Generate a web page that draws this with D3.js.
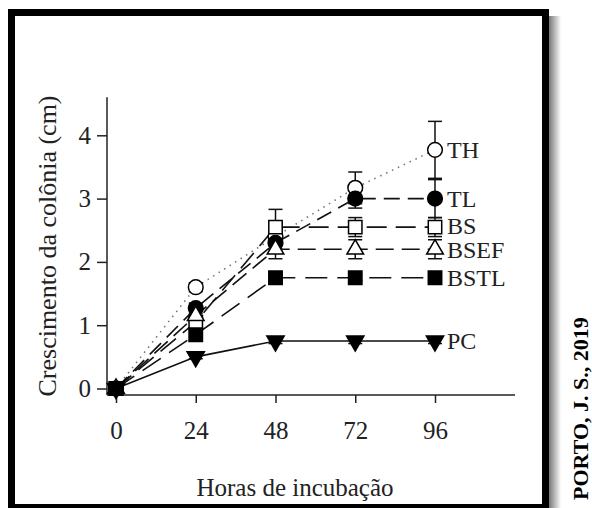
<!DOCTYPE html>
<html>
<head>
<meta charset="utf-8">
<script src="https://cdn.jsdelivr.net/npm/d3@7"></script>
<style>
  body { margin: 0; background: #fff; }
  svg text { font-family: "Liberation Serif", "Times New Roman", Times, serif; }
</style>
</head>
<body>
<script>
var width = 592;
var height = 508;

// data
var hours = [0, 24, 48, 72, 96];
var yTicks = [0, 1, 2, 3, 4];
var seriesNames = ["TH", "TL", "BS", "BSEF", "BSTL", "PC"];
var thValues   = [0, 1.60, 2.40, 3.17, 3.77];
var thErrors   = [0, 0.07, 0.20, 0.25, 0.45];
var tlValues   = [0, 1.27, 2.30, 3.00, 3.00];
var tlErrors   = [0, 0.08, 0.15, 0.15, 0.30];
var bsValues   = [0, 1.05, 2.55, 2.55, 2.55];
var bsErrors   = [0, 0.10, 0.28, 0.15, 0.15];
var bsefValues = [0, 1.15, 2.20, 2.20, 2.20];
var bsefErrors = [0, 0.10, 0.15, 0.15, 0.15];
var bstlValues = [0, 0.85, 1.75, 1.75, 1.75];
var bstlErrors = [0, 0.08, 0.05, 0.05, 0.05];
var pcValues   = [0, 0.50, 0.75, 0.75, 0.75];
var pcErrors   = [0, 0.03, 0.04, 0.04, 0.04];

var series = [
  { name: "TH",   values: thValues,   errors: thErrors,   dash: "1.5,5", stroke: "#777", symbol: d3.symbolCircle,   fill: "#fff", size: 170 },
  { name: "TL",   values: tlValues,   errors: tlErrors,   dash: "16,8",  stroke: "#111", symbol: d3.symbolCircle,   fill: "#000", size: 170 },
  { name: "BS",   values: bsValues,   errors: bsErrors,   dash: "20,9",  stroke: "#111", symbol: d3.symbolSquare,   fill: "#fff", size: 180 },
  { name: "BSEF", values: bsefValues, errors: bsefErrors, dash: "18,8",  stroke: "#111", symbol: d3.symbolTriangle, fill: "#fff", size: 120 },
  { name: "BSTL", values: bstlValues, errors: bstlErrors, dash: "22,10", stroke: "#111", symbol: d3.symbolSquare,   fill: "#000", size: 180 },
  { name: "PC",   values: pcValues,   errors: pcErrors,   dash: null,    stroke: "#111", symbol: d3.symbolTriangle, fill: "#000", size: 130, flip: true }
];

var svg = d3.select("body").append("svg")
    .attr("width", width)
    .attr("height", height);

// drop shadow + frame
var defs = svg.append("defs");
var grad = defs.append("linearGradient").attr("id", "shade");
grad.append("stop").attr("offset", "0%").attr("stop-color", "#777");
grad.append("stop").attr("offset", "100%").attr("stop-color", "#fff");
svg.append("rect").attr("x", 549).attr("y", 16).attr("width", 12).attr("height", height)
    .attr("fill", "url(#shade)");
svg.append("rect").attr("x", 11.5).attr("y", 12.5).attr("width", 534).attr("height", 495)
    .attr("fill", "#fff").attr("stroke", "#000").attr("stroke-width", 7);

var x = d3.scaleLinear().domain([0, 96]).range([116, 435]);
var y = d3.scaleLinear().domain([0, 4]).range([388.5, 135.3]);

// axis lines
svg.append("line")
    .attr("x1", 107).attr("x2", 107)
    .attr("y1", y(4.6)).attr("y2", 395)
    .attr("stroke", "#222").attr("stroke-width", 1.5);
svg.append("line")
    .attr("x1", 107).attr("x2", 515)
    .attr("y1", 395).attr("y2", 395)
    .attr("stroke", "#222").attr("stroke-width", 1.5);

var yAxis = svg.append("g")
    .attr("transform", "translate(107,0)")
    .call(d3.axisLeft(y).tickValues(yTicks).tickSize(10).tickPadding(6).tickFormat(d3.format("d")));
var xAxis = svg.append("g")
    .attr("transform", "translate(0,395)")
    .call(d3.axisBottom(x).tickValues(hours).tickSize(8).tickPadding(18).tickFormat(d3.format("d")));
[yAxis, xAxis].forEach(function(a) {
  a.attr("font-family", null);
  a.select(".domain").remove();
  a.selectAll("line").attr("stroke", "#222").attr("stroke-width", 1.5);
  a.selectAll("text").attr("font-size", 25).attr("fill", "#222");
});

// titles
svg.append("text")
    .attr("x", 295).attr("y", 496)
    .attr("text-anchor", "middle")
    .attr("font-size", 25).attr("fill", "#222")
    .text("Horas de incubação");
svg.append("text")
    .attr("transform", "translate(56,246) rotate(-90)")
    .attr("text-anchor", "middle")
    .attr("font-size", 26).attr("fill", "#222")
    .text("Crescimento da colônia (cm)");

// lines
var line = d3.line()
    .x(function(d, i) { return x(hours[i]); })
    .y(function(d) { return y(d); });

var g = svg.append("g");

series.forEach(function(s) {
  g.append("path")
      .datum(s.values)
      .attr("d", line)
      .attr("fill", "none")
      .attr("stroke", s.stroke)
      .attr("stroke-width", 1.6)
      .attr("stroke-dasharray", s.dash);
});

// error bars
series.forEach(function(s) {
  s.values.forEach(function(v, i) {
    var e = s.errors[i];
    if (!e) return;
    var cx = x(hours[i]);
    g.append("line")
        .attr("x1", cx).attr("x2", cx)
        .attr("y1", y(v - e)).attr("y2", y(v + e))
        .attr("stroke", "#111").attr("stroke-width", 1.5);
    [v - e, v + e].forEach(function(c) {
      g.append("line")
          .attr("x1", cx - 7).attr("x2", cx + 7)
          .attr("y1", y(c)).attr("y2", y(c))
          .attr("stroke", "#111").attr("stroke-width", 1.5);
    });
  });
});

// markers
series.forEach(function(s) {
  var sym = d3.symbol().type(s.symbol).size(s.size);
  g.selectAll(null)
      .data(s.values)
      .enter().append("path")
      .attr("d", sym)
      .attr("transform", function(d, i) {
        return "translate(" + x(hours[i]) + "," + y(d) + ")" + (s.flip ? " rotate(180)" : "");
      })
      .attr("fill", s.fill)
      .attr("stroke", "#000")
      .attr("stroke-width", 1.5);
});

// series labels (BS / BSEF nudged apart a little)
var labelNudge = { BS: -1, BSEF: 1 };
series.forEach(function(s) {
  svg.append("text")
      .attr("x", x(96) + 12)
      .attr("y", y(s.values[4]) + (labelNudge[s.name] || 0))
      .attr("dy", "0.34em")
      .attr("font-size", 24).attr("fill", "#222")
      .text(s.name);
});

// credit
svg.append("text")
    .attr("transform", "translate(588,500) rotate(-90)")
    .attr("font-size", 22).attr("font-weight", "bold").attr("fill", "#000")
    .text("PORTO, J. S., 2019");
</script>
</body>
</html>
